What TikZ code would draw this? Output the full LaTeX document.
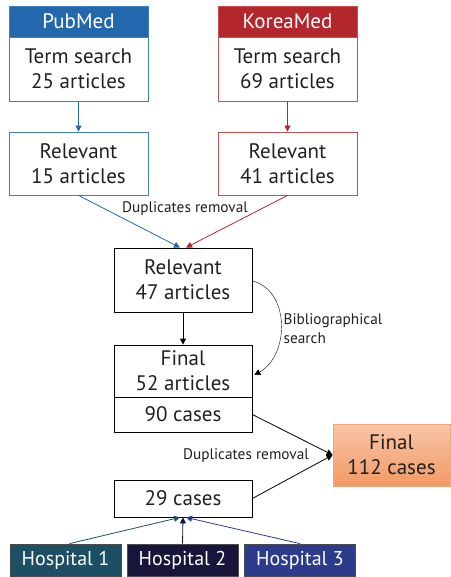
\documentclass[tikz,border=0pt]{standalone}
\usepackage{fontspec}
\setmainfont{PT Sans}
\usetikzlibrary{positioning,arrows.meta,calc}
\definecolor{pubblue}{HTML}{2367AD}
\definecolor{publine}{HTML}{3F7FC4}
\definecolor{korred}{HTML}{B3262C}
\definecolor{korline}{HTML}{C9504F}
\definecolor{hospa}{HTML}{1C4F63}
\definecolor{hospb}{HTML}{17163A}
\definecolor{hospc}{HTML}{2C3B8C}
\definecolor{orgtop}{HTML}{F9C6A6}
\definecolor{orgbot}{HTML}{F29A66}
\definecolor{orgline}{HTML}{F2A47A}
\definecolor{txt}{HTML}{231F20}
\tikzset{
  box/.style={draw, thick, align=center, font=\fontsize{21}{25}\selectfont,
              text=txt, inner sep=1pt, minimum width=139pt},
  head/.style={box, text=white, minimum height=31pt},
  hosp/.style={draw=black!70, thick, text=white, font=\fontsize{20}{24}\selectfont,
               minimum width=111pt, minimum height=32pt, inner sep=1pt},
  lbl/.style={font=\fontsize{15.3}{19}\selectfont, text=txt, align=left},
  flow/.style={-{Triangle[length=6pt,width=6pt]}, thick},
}

\begin{document}
\begin{tikzpicture}[x=1pt, y=-1pt]
    \useasboundingbox (0,0) rectangle (450,577);
    % the two databases
    \node[head, draw=publine, fill=pubblue] (pubhead) at (78.5,21.5) {PubMed};
    \node[box, draw=publine, minimum height=64pt] (pubterm) at (78.5,69) {Term search\\25 articles};
    \node[head, draw=korline, fill=korred] (korhead) at (287.5,21.5) {KoreaMed};
    \node[box, draw=korline, minimum height=64pt] (korterm) at (287.5,69) {Term search\\69 articles};
    \node[box, draw=publine, minimum height=63pt] (pubrel) at (78.5,163.5) {Relevant\\15 articles};
    \node[box, draw=korline, minimum height=63pt] (korrel) at (287.5,163.5) {Relevant\\41 articles};
    \draw[flow, pubblue] (pubterm) -- (pubrel);
    \draw[flow, korred] (korterm) -- (korrel);
    % merged
    \node[box, minimum width=138pt, minimum height=64pt] (rel47) at (183,280) {Relevant\\47 articles};
    \draw[flow, pubblue] (pubrel.south) -- ($(rel47.north)+(-3,0)$);
    \draw[flow, korred] (korrel.south) -- ($(rel47.north)+(3,0)$);
    \node[lbl] (dupa) at (185,209) {Duplicates removal};
    \node[box, minimum width=138pt, minimum height=52pt] (fin52) at (183,371) {Final\\52 articles};
    \node[box, minimum width=138pt, minimum height=35pt] (cases90) at (183,414.5) {90 cases};
    \draw[flow] (rel47) -- (fin52);
    \draw[-{Triangle[length=6pt,width=6pt]}, thin]
      ($(rel47.east)+(0,1)$) .. controls (290,290) and (290,355) .. ($(fin52.east)+(2,4)$);
    \node[lbl] (biblio) at (333,329) {Bibliographical\\search};
    % cases
    \node[box, draw=orgline, fill=orgbot, top color=orgtop, bottom color=orgbot,
          minimum width=117pt, minimum height=62pt] (fin112) at (391.5,455) {Final\\112 cases};
    \node[box, minimum width=138pt, minimum height=37pt] (cases29) at (183,498.5) {29 cases};
    \draw[flow] (cases90.east) -- (fin112.west);
    \draw[flow] (cases29.east) -- (fin112.west);
    \node[lbl] (dupb) at (246,456) {Duplicates removal};
    % hospitals
    \node[hosp, fill=hospa] (hosp1) at (65.5,560) {Hospital 1};
    \node[hosp, fill=hospb] (hosp2) at (182.5,560) {Hospital 2};
    \node[hosp, fill=hospc] (hosp3) at (300,560) {Hospital 3};
    \draw[flow, hospa] ($(hosp1.north)+(4,0)$) -- ($(cases29.south)+(-3,0)$);
    \draw[flow, hospb] (hosp2.north) -- (cases29.south);
    \draw[flow, hospc] (hosp3.north) -- ($(cases29.south)+(3,0)$);
\end{tikzpicture}
\end{document}
